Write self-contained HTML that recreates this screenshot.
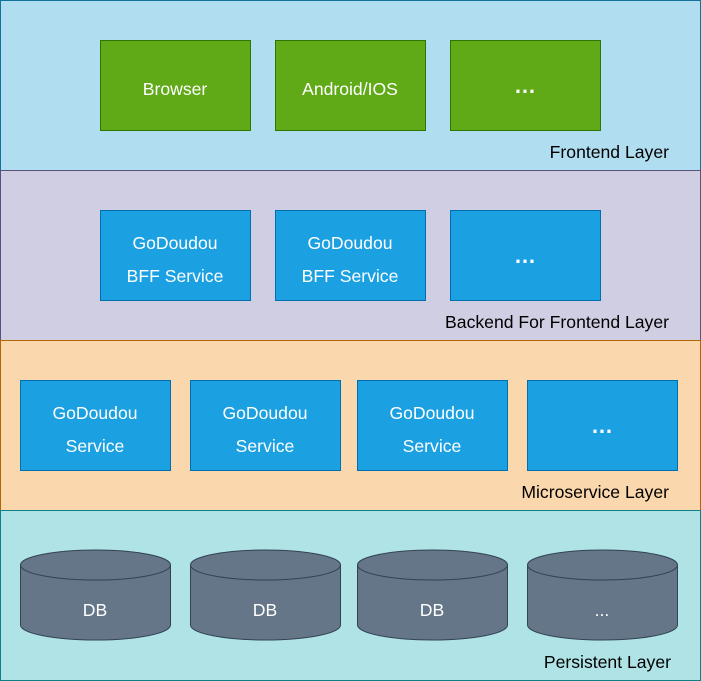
<!DOCTYPE html>
<html><head><meta charset="utf-8"><style>body{margin:0;background:#fff}svg{display:block}text{font-family:"Liberation Sans",Arial,sans-serif}</style></head><body>
<svg width="701" height="681" viewBox="0 0 701 681">
<rect x="0.5" y="0.5" width="700" height="170" fill="#b1ddf0" stroke="#10739e"/>
<rect x="0.5" y="170.5" width="700" height="170" fill="#d0cee2" stroke="#56517e"/>
<rect x="0.5" y="340.5" width="700" height="170" fill="#fad7ac" stroke="#b46504"/>
<rect x="0.5" y="510.5" width="700" height="170" fill="#b0e3e6" stroke="#0e8088"/>
<g font-size="17.6" fill="#000" text-anchor="end">
<text x="669" y="158">Frontend Layer</text>
<text x="669" y="328">Backend For Frontend Layer</text>
<text x="669" y="498">Microservice Layer</text>
<text x="671" y="668">Persistent Layer</text>
</g>
<g fill="#60a917" stroke="#2d7600">
<rect x="100.5" y="40.5" width="150" height="90"/>
<rect x="275.5" y="40.5" width="150" height="90"/>
<rect x="450.5" y="40.5" width="150" height="90"/>
</g>
<g fill="#1ba1e2" stroke="#006eaf">
<rect x="100.5" y="210.5" width="150" height="90"/>
<rect x="275.5" y="210.5" width="150" height="90"/>
<rect x="450.5" y="210.5" width="150" height="90"/>
<rect x="20.5" y="380.5" width="150" height="90"/>
<rect x="190.5" y="380.5" width="150" height="90"/>
<rect x="357.5" y="380.5" width="150" height="90"/>
<rect x="527.5" y="380.5" width="150" height="90"/>
</g>
<g font-size="17.6" fill="#fff" text-anchor="middle">
<text x="175" y="95">Browser</text>
<text x="350" y="95">Android/IOS</text>
<text x="525" y="93" font-weight="bold" font-size="22">…</text>
<text x="175" y="249">GoDoudou</text><text x="175" y="282">BFF Service</text>
<text x="350" y="249">GoDoudou</text><text x="350" y="282">BFF Service</text>
<text x="525" y="263" font-weight="bold" font-size="22">…</text>
<text x="95" y="419">GoDoudou</text><text x="95" y="452">Service</text>
<text x="265" y="419">GoDoudou</text><text x="265" y="452">Service</text>
<text x="432" y="419">GoDoudou</text><text x="432" y="452">Service</text>
<text x="602" y="433" font-weight="bold" font-size="22">…</text>
</g>
<g fill="#647687" stroke="#314354">
<path d="M20.5 565 A75 15 0 0 1 170.5 565 V625 A75 15 0 0 1 20.5 625 Z"/><path d="M20.5 565 A75 15 0 0 0 170.5 565" fill="none"/>
<path d="M190.5 565 A75 15 0 0 1 340.5 565 V625 A75 15 0 0 1 190.5 625 Z"/><path d="M190.5 565 A75 15 0 0 0 340.5 565" fill="none"/>
<path d="M357.5 565 A75 15 0 0 1 507.5 565 V625 A75 15 0 0 1 357.5 625 Z"/><path d="M357.5 565 A75 15 0 0 0 507.5 565" fill="none"/>
<path d="M527.5 565 A75 15 0 0 1 677.5 565 V625 A75 15 0 0 1 527.5 625 Z"/><path d="M527.5 565 A75 15 0 0 0 677.5 565" fill="none"/>
</g>
<g font-size="17.6" fill="#fff" text-anchor="middle">
<text x="95" y="616">DB</text><text x="265" y="616">DB</text><text x="432" y="616">DB</text><text x="602" y="616">...</text>
</g>
</svg>
</body></html>
